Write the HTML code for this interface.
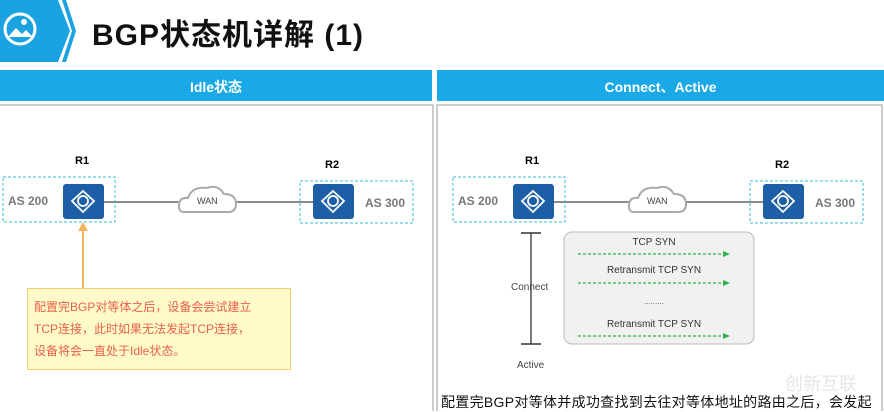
<!DOCTYPE html>
<html><head><meta charset="utf-8"><style>
body{margin:0;width:884px;height:411px;overflow:hidden;background:#fff;font-family:"Liberation Sans","Noto Sans CJK SC",sans-serif;position:relative}
.a{position:absolute}
.t{position:absolute;white-space:nowrap}
</style></head><body>
<svg class="a" style="left:0;top:0" width="884" height="411">
<polygon points="0,0 58,0 70,31 58,62 0,62" fill="#1aa3e0"/>
<polygon points="62,0 66,0 76,31 66,62 62,62 72,31" fill="#1aa3e0"/>
<circle cx="20" cy="29" r="15" fill="none" stroke="#fff" stroke-width="3"/>
<circle cx="24" cy="22" r="3" fill="#fff"/>
<polygon points="8,37 16,28 22,34 26,30 33,37" fill="#fff"/>
<rect x="0" y="70" width="432" height="31" fill="#1aa9e6"/>
<rect x="437" y="70" width="447" height="31" fill="#1aa9e6"/>
<rect x="-2" y="105" width="435" height="310" fill="none" stroke="#bbb" stroke-width="1.5"/>
<rect x="437" y="105" width="445" height="310" fill="none" stroke="#bbb" stroke-width="1.5"/>
<g id="net">
<line x1="104" y1="202" x2="313" y2="202" stroke="#444" stroke-width="1.3"/>
<rect x="3" y="177" width="112" height="45" fill="none" stroke="#3cb8d8" stroke-dasharray="3,2"/>
<rect x="300" y="181" width="113" height="42" fill="none" stroke="#3cb8d8" stroke-dasharray="3,2"/>
<path d="M184,212 Q178,212 179,204 Q180,197 188,198 Q192,186 207,188 Q218,184 224,194 Q236,194 236,204 Q236,212 228,212 Z" fill="#fff" stroke="#aaa" stroke-width="2"/>
<rect x="63" y="184" width="41" height="35" rx="3" fill="#1d5fa6"/>
<rect x="313" y="184" width="41" height="35" rx="3" fill="#1d5fa6"/>
<g fill="none" stroke="#fff" stroke-width="1.8"><polygon points="83,191 94,201 83,212 72,201"/><circle cx="83" cy="201" r="5"/><polygon points="333,191 344,201 333,212 322,201"/><circle cx="333" cy="201" r="5"/></g>
</g>
<use href="#net" x="450" y="0"/>
<line x1="83" y1="230" x2="83" y2="288" stroke="#f7b35c" stroke-width="2"/>
<polygon points="78,231 88,231 83,222" fill="#f7b35c"/>
<rect x="27.5" y="288.5" width="263" height="81" fill="#fefbc8" stroke="#f3cf79"/>
<line x1="531" y1="233" x2="531" y2="344" stroke="#333" stroke-width="1.3"/>
<line x1="521" y1="233" x2="541" y2="233" stroke="#333" stroke-width="1.5"/>
<line x1="521" y1="344" x2="541" y2="344" stroke="#333" stroke-width="1.5"/>
<rect x="564" y="232" width="190" height="112" rx="8" fill="#f1f1f1" stroke="#bbb"/>
<g stroke="#2fb54a" stroke-width="1.3" stroke-dasharray="3,2"><line x1="578" y1="254" x2="724" y2="254"/><line x1="578" y1="283" x2="724" y2="283"/><line x1="578" y1="336" x2="724" y2="336"/></g>
<g fill="#2fb54a"><polygon points="723,251 730,254 723,257"/><polygon points="723,280 730,283 723,286"/><polygon points="723,333 730,336 723,339"/></g>
</svg>
<div class="t" style="left:92px;top:10px;font-size:30px;font-weight:bold;color:#111;letter-spacing:1px">BGP状态机详解 (1)</div>
<div class="t" style="left:0;width:432px;top:77px;text-align:center;color:#fff;font-weight:bold;font-size:14px">Idle状态</div>
<div class="t" style="left:437px;width:447px;top:77px;text-align:center;color:#fff;font-weight:bold;font-size:14px">Connect、Active</div>
<div class="t" style="left:75px;top:155px;font-size:11px;font-weight:bold">R1</div>
<div class="t" style="left:325px;top:159px;font-size:11px;font-weight:bold">R2</div>
<div class="t" style="left:8px;top:194px;font-size:12px;font-weight:bold;color:#777">AS 200</div>
<div class="t" style="left:365px;top:196px;font-size:12px;font-weight:bold;color:#777">AS 300</div>
<div class="t" style="left:197px;top:196px;font-size:9px;color:#444">WAN</div>
<div class="t" style="left:525px;top:155px;font-size:11px;font-weight:bold">R1</div>
<div class="t" style="left:775px;top:159px;font-size:11px;font-weight:bold">R2</div>
<div class="t" style="left:458px;top:194px;font-size:12px;font-weight:bold;color:#777">AS 200</div>
<div class="t" style="left:815px;top:196px;font-size:12px;font-weight:bold;color:#777">AS 300</div>
<div class="t" style="left:647px;top:196px;font-size:9px;color:#444">WAN</div>
<div class="t" style="left:34px;top:296px;font-size:12px;line-height:22px;color:#e8604c">配置完BGP对等体之后，设备会尝试建立<br>TCP连接，此时如果无法发起TCP连接，<br>设备将会一直处于Idle状态。</div>
<div class="t" style="left:511px;top:282px;font-size:10px;color:#444">Connect</div>
<div class="t" style="left:517px;top:360px;font-size:10px;color:#444">Active</div>
<div class="t" style="left:564px;width:180px;top:237px;text-align:center;font-size:10px;color:#333">TCP SYN</div>
<div class="t" style="left:564px;width:180px;top:265px;text-align:center;font-size:10px;color:#333">Retransmit TCP SYN</div>
<div class="t" style="left:564px;width:180px;top:297px;text-align:center;font-size:8px;color:#555">.........</div>
<div class="t" style="left:564px;width:180px;top:319px;text-align:center;font-size:10px;color:#333">Retransmit TCP SYN</div>
<div class="t" style="left:441px;top:392px;font-size:14px;color:#111;letter-spacing:0.3px">配置完BGP对等体并成功查找到去往对等体地址的路由之后，会发起</div>
<div class="t" style="left:785px;top:370px;font-size:18px;color:#e6e6e6">创新互联</div>
</body></html>
